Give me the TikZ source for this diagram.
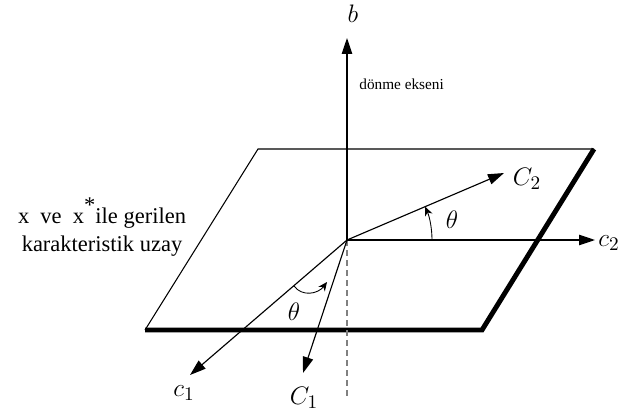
\documentclass[tikz,border=0pt]{standalone}
\usepackage{fontspec}
\setmainfont{Liberation Serif}
\usepackage{amsmath}
\usetikzlibrary{arrows.meta,calc}

\begin{document}
\begin{tikzpicture}[x=0.02cm, y=-0.02cm,
    axis/.style={-{Triangle[length=3.2mm, width=2.1mm]}, line width=0.65pt},
    thinedge/.style={line width=0.6pt},
    thickedge/.style={line width=2.8pt, line join=miter},
    angarrow/.style={-{Stealth[length=1.8mm, width=1.6mm]}, line width=0.5pt},
    hidden/.style={dashed, dash pattern=on 3.4pt off 2.3pt, line width=0.7pt, gray},
    lbl/.style={inner sep=1pt, font=\fontsize{15}{18}\selectfont},
  ]
  \useasboundingbox (0,0) rectangle (621,419);
  % plane corners and origin
  \coordinate (O) at (347,240);
  \coordinate (tl) at (258,149);
  \coordinate (tr) at (594,149);
  \coordinate (br) at (482,330);
  \coordinate (bl) at (145,330);
  % arrow tips
  \coordinate (bt) at (347,38);
  \coordinate (bb) at (347,400);
  \coordinate (c2t) at (595,240);
  \coordinate (C2t) at (504,173);
  \coordinate (c1t) at (190,375);
  \coordinate (C1t) at (303,373);
  % plane
  \draw[thinedge] (bl) -- (tl) -- (tr);
  \draw[thickedge] (tr) -- (br) -- (bl);
  % axes and vectors
  \draw[axis] (O) -- (bt);
  \draw[hidden] (O) -- (bb);
  \draw[axis] (O) -- (c2t);
  \draw[axis] (O) -- (C2t);
  \draw[axis] (O) -- (c1t);
  \draw[axis] (O) -- (C1t);
  % angles
  \draw[angarrow] ($(O)+(85,0)$) arc[start angle=0, end angle=-23, radius=85];
  \draw[angarrow] (294,286) .. controls (302,297) and (318,294) .. (327,282);
  % labels
  \node[lbl] (b) at (353,14) {$b$};
  \node[lbl] (c2) at (609,243) {$c_2$};
  \node[lbl] (C2) at (527,179) {$C_2$};
  \node[lbl] (c1) at (184,393) {$c_1$};
  \node[lbl] (C1) at (304,398) {$C_1$};
  \node[lbl] (th2) at (452,220) {$\theta$};
  \node[lbl] (th1) at (294,312) {$\theta$};
  \node[anchor=west, inner sep=0pt, font=\fontsize{8.7}{10}\selectfont] (rot) at (359,84) {dönme ekseni};
  \node[align=center, inner sep=0pt, font=\fontsize{12.8}{15.9}\selectfont] (span) at (102,227)
    {x\ \ ve\ \ x\raisebox{1.1ex}{*}ile gerilen\\karakteristik uzay};
\end{tikzpicture}
\end{document}
